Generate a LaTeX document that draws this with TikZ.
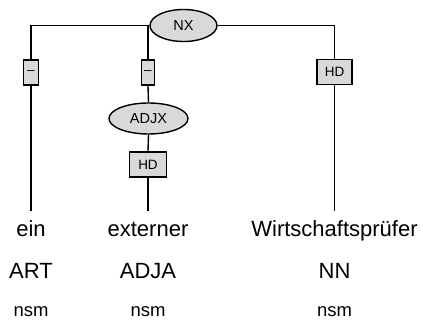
\documentclass[tikz,border=0pt]{standalone}
\usepackage{fontspec}
\setmainfont{Liberation Sans}
\usetikzlibrary{shapes.geometric}
\begin{document}
\begin{tikzpicture}[x=1pt,y=-1pt,
  edge/.style={line width=1.4pt,draw=black},
  cat/.style={ellipse,draw=black,line width=1.4pt,fill=black!15,inner sep=0pt,font=\fontsize{14.5}{16}\selectfont},
  fbox/.style={rectangle,draw=black,line width=1.4pt,fill=black!15,inner sep=0pt,minimum height=25pt,font=\fontsize{13.5}{16}\selectfont},
  word/.style={anchor=base,inner sep=0pt,font=\fontsize{22}{26}\selectfont},
  morph/.style={anchor=base,inner sep=0pt,font=\fontsize{18.5}{22}\selectfont}]
\useasboundingbox (0,0) rectangle (423,320);
% category nodes
\node[cat,minimum width=67pt,minimum height=32pt] (nx) at (183.5,25.5) {NX};
\node[cat,minimum width=79pt,minimum height=31pt] (adjx) at (148.5,118.5) {ADJX};
% function boxes
\node[fbox,minimum width=15pt] (f1) at (31,72.5) {–};
\node[fbox,minimum width=13pt] (f2) at (148,72.5) {–};
\node[fbox,minimum width=35pt] (f3) at (334.5,72) {HD};
\node[fbox,minimum width=37pt] (f4) at (148,164.5) {HD};
% words
\node[word] (w1) at (31,236.7) {ein};
\node[word] (w2) at (148,236.7) {externer};
\node[word] (w3) at (334.5,236.7) {Wirtschaftsprüfer};
\node[word] (t1) at (31,279) {ART};
\node[word] (t2) at (148,279) {ADJA};
\node[word] (t3) at (334.5,279) {NN};
\node[morph] (m1) at (31,316.5) {nsm};
\node[morph] (m2) at (148,316.5) {nsm};
\node[morph] (m3) at (334.5,316.5) {nsm};
% line ends
\coordinate (e1) at (31,211);
\coordinate (e2) at (148,211);
\coordinate (e3) at (334.5,211);
\coordinate (j2) at (148,25.5);
% connectors
\draw[edge] (nx.west) -| (f1.north);
\draw[edge] (j2) -- (f2.north);
\draw[edge] (nx.east) -| (f3.north);
\draw[edge] (f1.south) -- (e1);
\draw[edge] (f2.south) -- (adjx.north);
\draw[edge] (adjx.south) -- (f4.north);
\draw[edge] (f4.south) -- (e2);
\draw[edge] (f3.south) -- (e3);
\end{tikzpicture}
\end{document}
